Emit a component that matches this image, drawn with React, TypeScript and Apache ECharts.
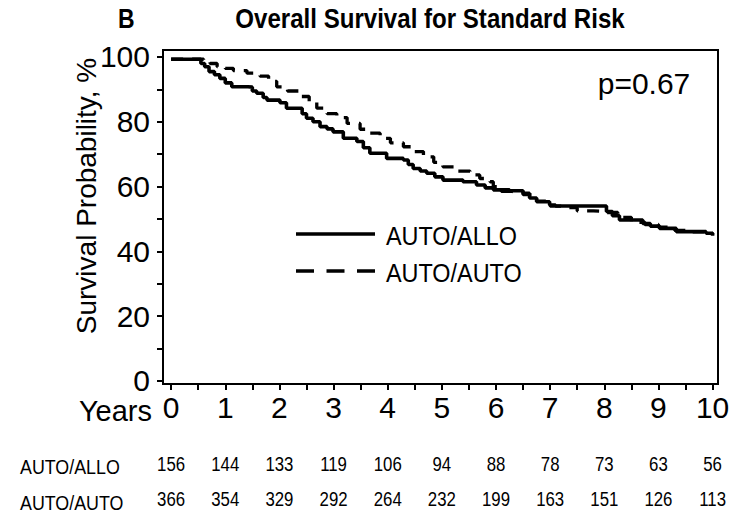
import React, { useEffect, useRef } from "react";
import * as echarts from "echarts";

// Year marks on the time axis and number-at-risk table
const YEARS = [0, 1, 2, 3, 4, 5, 6, 7, 8, 9, 10];
const GROUPS = ["AUTO/ALLO", "AUTO/AUTO"];
const ALLO_AT_RISK = [156, 144, 133, 119, 106, 94, 88, 78, 73, 63, 56];
const AUTO_AT_RISK = [366, 354, 329, 292, 264, 232, 199, 163, 151, 126, 113];

// Axis marks
const Y_TICKS = [0, 10, 20, 30, 40, 50, 60, 70, 80, 90, 100];
const Y_LABELS = [0, 20, 40, 60, 80, 100];
const X_TICKS = [0, 0.5, 1, 1.5, 2, 2.5, 3, 3.5, 4, 4.5, 5, 5.5, 6, 6.5, 7, 7.5, 8, 8.5, 9, 9.5, 10];

// Kaplan-Meier estimates: [years, survival %] after each drop
const ALLO_CURVE: [number, number][] = [
  [0, 99.3], [0.47, 99.3], [0.55, 98], [0.62, 97], [0.7, 95.5], [0.8, 94.5], [0.9, 93.4],
  [1.0, 92], [1.12, 90.8], [1.42, 90.7], [1.5, 89.5], [1.58, 88.8], [1.7, 87.5], [1.77, 86.7],
  [2.01, 85.9], [2.13, 84.2], [2.32, 84.2], [2.42, 82.5], [2.5, 81.1], [2.62, 80], [2.75, 78.5],
  [2.88, 77.8], [2.99, 76.9], [3.18, 74.9], [3.43, 73.9], [3.55, 72], [3.67, 70.3], [3.98, 68.7],
  [4.29, 68.2], [4.38, 66.8], [4.47, 65.6], [4.6, 64.8], [4.72, 64.1], [4.87, 63], [5.02, 62.0],
  [5.39, 61.5], [5.64, 60.5], [5.8, 59.6], [5.95, 59.0], [6.25, 58.7], [6.5, 57.9], [6.62, 56.5],
  [6.75, 55.3], [6.99, 54.3], [7.1, 54], [7.92, 54], [8.04, 52.3], [8.15, 51], [8.28, 49.7],
  [8.71, 48.6], [8.85, 47.8], [9.02, 47.1], [9.33, 46.1], [9.88, 45.6], [10.0, 44.8],
];

const AUTO_CURVE: [number, number][] = [
  [0, 99.3], [0.5, 99.3], [0.6, 98.5], [0.72, 98], [0.85, 97], [1.0, 96.5], [1.15, 95.8],
  [1.4, 95], [1.64, 94.1], [1.8, 92.5], [1.95, 90.8], [2.15, 89.5], [2.38, 87.8], [2.55, 86],
  [2.69, 84.2], [2.88, 82.5], [3.06, 81.3], [3.25, 79.5], [3.49, 77.7], [3.65, 76.5], [3.86, 74.9],
  [4.05, 73.5], [4.29, 72.3], [4.45, 70.8], [4.66, 69.2], [4.85, 67.5], [5.02, 66.1], [5.25, 64.8],
  [5.52, 63.6], [5.7, 62.5], [5.89, 61.5], [5.95, 60], [6.1, 58.5], [6.3, 58.3], [6.5, 57.5],
  [6.75, 55.5], [7.0, 54], [7.2, 53.5], [7.5, 52.5], [7.8, 52.3], [8.05, 52], [8.25, 50.5],
  [8.5, 49], [8.75, 48.3], [9.0, 47.5], [9.3, 46.5], [9.6, 46], [9.85, 45.6], [10.0, 45.2],
];

const SANS = "'Liberation Sans', Arial, sans-serif";
// Condensed look for the title and header letter
const NARROW_SCALE = 0.82;

export default function App() {
  const ref = useRef<HTMLDivElement>(null);

  useEffect(() => {
    if (!ref.current) return;
    const chart = echarts.init(ref.current, undefined, { renderer: "svg" });

    const atRisk = [
      ...ALLO_AT_RISK.map((n, i) => [YEARS[i], 0, n]),
      ...AUTO_AT_RISK.map((n, i) => [YEARS[i], 1, n]),
    ];

    chart.setOption({
      animation: false,
      backgroundColor: "#fff",
      grid: [
        { left: 163, top: 50, right: 20, bottom: 132, show: true, borderColor: "#000", borderWidth: 2 },
        { left: 163, right: 20, top: 446, height: 74, show: false },
      ],
      xAxis: [
        {
          gridIndex: 0,
          type: "value",
          min: -0.15,
          max: 10.1,
          axisLine: { show: true, onZero: false, lineStyle: { color: "#000", width: 2 } },
          axisTick: { show: true, customValues: X_TICKS, length: 6, lineStyle: { color: "#000", width: 2 } },
          axisLabel: { customValues: YEARS, fontSize: 30, color: "#000", margin: 8, fontFamily: SANS },
          splitLine: { show: false },
        },
        { gridIndex: 1, type: "value", min: -0.15, max: 10.1, show: false },
      ],
      yAxis: [
        {
          gridIndex: 0,
          type: "value",
          min: -0.93,
          max: 102.16,
          axisLine: { show: true, onZero: false, lineStyle: { color: "#000", width: 2 } },
          axisTick: { show: true, customValues: Y_TICKS, length: 6, lineStyle: { color: "#000", width: 2 } },
          axisLabel: { customValues: Y_LABELS, fontSize: 30, color: "#000", margin: 13, fontFamily: SANS },
          splitLine: { show: false },
        },
        {
          gridIndex: 1,
          type: "category",
          inverse: true,
          data: GROUPS,
          show: false,
        },
      ],
      series: [
        {
          name: "AUTO/ALLO",
          type: "line",
          step: "end",
          data: ALLO_CURVE,
          symbol: "none",
          lineStyle: { color: "#000", width: 3.6 },
          z: 3,
        },
        {
          name: "AUTO/AUTO",
          type: "line",
          step: "end",
          data: AUTO_CURVE,
          symbol: "none",
          lineStyle: { color: "#000", width: 3.3, type: [12, 9] },
          z: 2,
        },
        {
          type: "custom",
          xAxisIndex: 1,
          yAxisIndex: 1,
          data: atRisk,
          encode: { x: 0, y: 1 },
          silent: true,
          renderItem: (_params: any, api: any) => {
            const pt = api.coord([api.value(0), api.value(1)]);
            return {
              type: "text",
              x: pt[0],
              y: pt[1],
              scaleX: 0.8,
              style: {
                text: String(api.value(2)),
                font: `21px ${SANS}`,
                fill: "#000",
                align: "center",
                verticalAlign: "middle",
              },
            };
          },
        },
      ],
      graphic: [
        {
          type: "text",
          x: 118,
          y: 18,
          scaleX: NARROW_SCALE,
          style: { text: "B", font: `bold 28px ${SANS}`, fill: "#000", verticalAlign: "middle" },
        },
        {
          type: "text",
          x: 430,
          y: 18,
          scaleX: 0.86,
          style: {
            text: "Overall Survival for Standard Risk",
            font: `bold 28px ${SANS}`,
            fill: "#000",
            align: "center",
            verticalAlign: "middle",
          },
        },
        {
          type: "text",
          x: 644,
          y: 83,
          style: { text: "p=0.67", font: `30px ${SANS}`, fill: "#000", align: "center", verticalAlign: "middle" },
        },
        {
          type: "text",
          x: 86,
          y: 196,
          rotation: Math.PI / 2,
          style: {
            text: "Survival Probability, %",
            font: `28px ${SANS}`,
            fill: "#000",
            align: "center",
            verticalAlign: "middle",
          },
        },
        {
          type: "text",
          x: 152,
          y: 411,
          style: { text: "Years", font: `29px ${SANS}`, fill: "#000", align: "right", verticalAlign: "middle" },
        },
        {
          type: "line",
          shape: { x1: 296, y1: 234, x2: 375, y2: 234 },
          style: { stroke: "#000", lineWidth: 3.5 },
        },
        {
          type: "line",
          shape: { x1: 296, y1: 271, x2: 375, y2: 271 },
          style: { stroke: "#000", lineWidth: 3.5, lineDash: [18, 12.5] },
        },
        {
          type: "text",
          x: 386,
          y: 236,
          scaleX: 0.9,
          style: { text: GROUPS[0], font: `26px ${SANS}`, fill: "#000", verticalAlign: "middle" },
        },
        {
          type: "text",
          x: 386,
          y: 273,
          scaleX: 0.9,
          style: { text: GROUPS[1], font: `26px ${SANS}`, fill: "#000", verticalAlign: "middle" },
        },
        {
          type: "text",
          x: 20,
          y: 466,
          scaleX: 0.85,
          style: { text: GROUPS[0], font: `21px ${SANS}`, fill: "#000", verticalAlign: "middle" },
        },
        {
          type: "text",
          x: 20,
          y: 502,
          scaleX: 0.85,
          style: { text: GROUPS[1], font: `21px ${SANS}`, fill: "#000", verticalAlign: "middle" },
        },
      ],
    });

    return () => chart.dispose();
  }, []);

  return (
    <div
      ref={ref}
      style={{ position: "fixed", left: 0, top: 0, width: 738, height: 516, background: "#fff" }}
    />
  );
}
